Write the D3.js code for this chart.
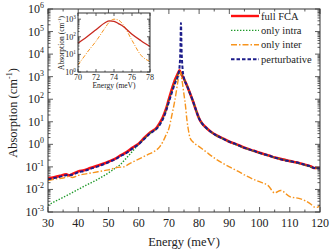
<!DOCTYPE html>
<html>
<head>
<meta charset="utf-8">
<script src="https://cdn.jsdelivr.net/npm/d3@7"></script>
<style>
  body { margin: 0; background: #fff; }
  svg text { font-family: "Liberation Serif", "Times New Roman", serif; fill: #222; }
</style>
</head>
<body>
<div id="chart"></div>
<script>
// main panel data, energy in meV, absorption in cm^-1
let fullE = [30,32,34,36,37,38,40,42,44,46,48,50,52,54,56,58,60,62,64,66,67,68,69,70,71,72,73,73.5,74,75,76,77,78,79,80,81,82,84,86,88,90,92,95,98,100,103,105,108,110,113,115,117,118,120];
let fullV = [0.032,0.035,0.040,0.047,0.042,0.048,0.063,0.071,0.089,0.11,0.135,0.17,0.22,0.32,0.45,0.71,1.07,2.0,3.5,5.6,8.9,16,35,100,280,710,1400,1900,1400,790,400,180,79,32,14,8.3,6.0,3.5,2.4,1.8,1.3,1.05,0.71,0.52,0.42,0.32,0.26,0.21,0.18,0.15,0.125,0.105,0.089,0.089];

let intraE = [30,32,34,36,38,40,42,44,46,48,50,52,54,56,58,60,62,64,66,68,70,71,72,73,73.5,74,75,76,77,78,79,80,82,84,86,88,90,95,100,105,110,115,118,120];
let intraV = [0.002,0.0028,0.0038,0.0052,0.0072,0.01,0.014,0.019,0.026,0.037,0.054,0.083,0.13,0.25,0.5,1.0,1.9,3.3,5.2,14,90,250,630,1300,1800,1400,790,400,180,79,32,14,5.9,3.5,2.3,1.75,1.3,0.69,0.41,0.26,0.18,0.12,0.089,0.087];

let interE = [30,33,35,37,38,40,43,45,48,50,53,55,57,60,63,65,67,68,69,70,71,72,73,73.6,74,74.5,75,75.5,76,76.5,77,78,80,82,85,88,90,93,95,98,100,103,105,107,110,113,115,117,118,119,120];
let interV = [0.025,0.03,0.032,0.038,0.034,0.042,0.05,0.056,0.066,0.074,0.095,0.1,0.14,0.22,0.35,0.47,0.79,1.3,2.5,5,20,93,630,1650,1250,500,160,50,11,4,1.9,1.26,0.79,0.5,0.25,0.14,0.1,0.063,0.044,0.028,0.022,0.014,0.007,0.009,0.0048,0.004,0.0032,0.0022,0.0017,0.0016,0.002];

let pertE = [30,32,34,36,38,40,42,44,46,48,50,52,54,56,58,60,62,64,66,67,68,69,70,71,72,73,73.5,73.8,74,74.2,74.5,75,76,77,78,79,80,81,82,84,86,88,90,92,95,98,100,103,105,108,110,113,115,117,118,120];
let pertV = [0.028,0.032,0.037,0.043,0.045,0.058,0.066,0.082,0.10,0.125,0.16,0.21,0.30,0.42,0.66,1.0,1.8,3.2,5.0,7.5,13,28,75,200,500,1100,2500,15000,240000,15000,2500,850,400,180,80,32,14,8.3,6.0,3.5,2.4,1.75,1.3,1.05,0.70,0.52,0.42,0.32,0.26,0.20,0.18,0.15,0.125,0.105,0.09,0.085];

// inset data
let insetE = [70,70.5,71,72,73,73.5,74,74.5,75,76,77,78];
let insetFullV = [43,65,100,250,630,800,760,560,400,140,60,28];
let insetInterV = [2.5,5.6,12.6,56,316,710,1000,890,500,63,8.9,4];

let xTicks = [30,40,50,60,70,80,90,100,110,120];
let yExps = [-3,-2,-1,0,1,2,3,4,5,6];
let insetXTicks = [70,72,74,76,78];
let insetYExps = [0,1,2,3];

let legendNames = ["full FCA","only intra","only inter","perturbative"];

const W = 332, H = 250;
const svg = d3.select("#chart").append("svg").attr("width", W).attr("height", H);

const x = d3.scaleLinear().domain([30,120]).range([48,320]);
const y = d3.scaleLog().domain([1e-3,1e6]).range([212,9]);

const styles = [
  {color:"#ff1010", width:2.6, dash:null},
  {color:"#1f9a2a", width:1.4, dash:"1.4,1.6"},
  {color:"#f7941d", width:1.4, dash:"6,2,1.5,2"},
  {color:"#1c1c8a", width:2, dash:"3.5,2"}
];

function drawFrame(g, xs, ys, majorX, minorX, majorY, minorY, big, small) {
  let [x0,x1] = xs.range(), [y0,y1] = ys.range();
  g.append("rect").attr("x", x0).attr("y", y1).attr("width", x1-x0).attr("height", y0-y1)
    .attr("fill","none").attr("stroke","#333").attr("stroke-width",1);
  let t = g.append("g").attr("stroke","#333").attr("stroke-width",0.8);
  majorX.forEach(v => {
    t.append("line").attr("x1",xs(v)).attr("x2",xs(v)).attr("y1",y0).attr("y2",y0-big);
    t.append("line").attr("x1",xs(v)).attr("x2",xs(v)).attr("y1",y1).attr("y2",y1+big);
  });
  minorX.forEach(v => {
    t.append("line").attr("x1",xs(v)).attr("x2",xs(v)).attr("y1",y0).attr("y2",y0-small);
    t.append("line").attr("x1",xs(v)).attr("x2",xs(v)).attr("y1",y1).attr("y2",y1+small);
  });
  majorY.forEach(v => {
    t.append("line").attr("x1",x0).attr("x2",x0+big).attr("y1",ys(v)).attr("y2",ys(v));
    t.append("line").attr("x1",x1).attr("x2",x1-big).attr("y1",ys(v)).attr("y2",ys(v));
  });
  minorY.forEach(v => {
    t.append("line").attr("x1",x0).attr("x2",x0+small).attr("y1",ys(v)).attr("y2",ys(v));
    t.append("line").attr("x1",x1).attr("x2",x1-small).attr("y1",ys(v)).attr("y2",ys(v));
  });
}

function logMinors(lo, hi) {
  let out = [];
  for (let e = lo; e < hi; e++)
    for (let m = 2; m <= 9; m++) out.push(m * Math.pow(10, e));
  return out;
}

function powLabel(g, px, py, e, size) {
  let t = g.append("text").attr("x", px).attr("y", py).attr("text-anchor","end")
    .style("font-size", size + "px");
  t.append("tspan").text("10");
  t.append("tspan").attr("dy", -size*0.42).style("font-size", (size*0.66) + "px").text(e);
}

// curves
let main = svg.append("g");
let clip = svg.append("clipPath").attr("id","mainclip");
clip.append("rect").attr("x",48).attr("y",9).attr("width",272).attr("height",203);

let line = d3.line().x(d => x(d[0])).y(d => y(d[1])).curve(d3.curveMonotoneX);
let series = [
  d3.zip(fullE, fullV),
  d3.zip(intraE, intraV),
  d3.zip(interE, interV),
  d3.zip(pertE, pertV)
];
let curves = main.append("g").attr("clip-path","url(#mainclip)");
series.forEach((s,i) => {
  curves.append("path").attr("d", line(s)).attr("fill","none")
    .attr("stroke", styles[i].color).attr("stroke-width", styles[i].width)
    .attr("stroke-dasharray", styles[i].dash);
});

drawFrame(main, x, y, xTicks, d3.range(35,120,10), yExps.map(e => Math.pow(10,e)), logMinors(-3,6), 5, 2.5);

xTicks.forEach(v => {
  main.append("text").attr("x", x(v)).attr("y", 227).attr("text-anchor","middle")
    .style("font-size","12px").text(v);
});
yExps.forEach(e => powLabel(main, 44, y(Math.pow(10,e)) + 4, e, 12));

main.append("text").attr("x", 184).attr("y", 246).attr("text-anchor","middle")
  .style("font-size","12.5px").text("Energy (meV)");
let yt = main.append("text").attr("transform","translate(17,113) rotate(-90)")
  .attr("text-anchor","middle").style("font-size","12.5px");
yt.append("tspan").text("Absorption (cm");
yt.append("tspan").attr("dy",-5).style("font-size","8px").text("-1");
yt.append("tspan").attr("dy",5).text(")");

// legend
let leg = svg.append("g");
legendNames.forEach((n,i) => {
  let ly = 16 + i*14.4;
  leg.append("line").attr("x1",231).attr("x2",259).attr("y1",ly).attr("y2",ly)
    .attr("stroke", styles[i].color).attr("stroke-width", i == 0 ? 2.4 : styles[i].width)
    .attr("stroke-dasharray", styles[i].dash);
  leg.append("text").attr("x",261).attr("y",ly+3.5).style("font-size","10.5px").text(n);
});

// inset
const xi = d3.scaleLinear().domain([70,78]).range([78,150]);
const yi = d3.scaleLog().domain([1, 2240]).range([72,13]);
let inset = svg.append("g");
inset.append("rect").attr("x",78).attr("y",13).attr("width",72).attr("height",59).attr("fill","#fff");
let insetLine = d3.line().x(d => xi(d[0])).y(d => yi(d[1])).curve(d3.curveMonotoneX);
inset.append("path").attr("d", insetLine(d3.zip(insetE, insetInterV))).attr("fill","none")
  .attr("stroke", styles[2].color).attr("stroke-width",1).attr("stroke-dasharray","4,1.5,1,1.5");
inset.append("path").attr("d", insetLine(d3.zip(insetE, insetFullV))).attr("fill","none")
  .attr("stroke", "#c8281e").attr("stroke-width",1.3);

drawFrame(inset, xi, yi, insetXTicks, [71,73,75,77], insetYExps.map(e => Math.pow(10,e)), logMinors(0,3), 3, 1.5);
insetXTicks.forEach(v => {
  inset.append("text").attr("x", xi(v)).attr("y", 80).attr("text-anchor","middle")
    .style("font-size","8px").text(v);
});
insetYExps.forEach(e => powLabel(inset, 76, yi(Math.pow(10,e)) + 3, e, 8));
inset.append("text").attr("x", 114).attr("y", 88).attr("text-anchor","middle")
  .style("font-size","7.5px").text("Energy (meV)");
let yti = inset.append("text").attr("transform","translate(64,43) rotate(-90)")
  .attr("text-anchor","middle").style("font-size","7.5px");
yti.append("tspan").text("Absorption (cm");
yti.append("tspan").attr("dy",-3).style("font-size","5px").text("-1");
yti.append("tspan").attr("dy",3).text(")");
</script>
</body>
</html>
